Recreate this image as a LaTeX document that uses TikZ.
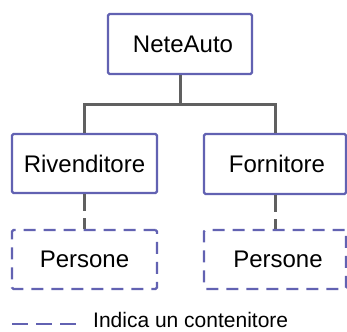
\documentclass[tikz,border=0pt]{standalone}
\usepackage{fontspec}
\setmainfont{Liberation Sans}
\definecolor{boxblue}{RGB}{98,98,178}
\definecolor{linkgray}{RGB}{96,96,96}

\begin{document}
\begin{tikzpicture}[x=1pt, y=-1pt,
    box/.style={draw=boxblue, line width=2.2pt, rectangle, rounded corners=1.5pt, inner sep=0pt, minimum width=145pt, minimum height=60pt, font=\fontsize{24}{28}\selectfont},
    container/.style={box, dash pattern=on 12pt off 8pt},
    link/.style={draw=linkgray, line width=3pt}]
    \useasboundingbox (0,0) rectangle (347,331);

    % Nodes
    \node (neteauto) [box, minimum width=144pt] at (180,44) {\hspace{6pt}NeteAuto};
    \node (rivenditore) [box, minimum height=59pt] at (84.5,163.5) {Rivenditore};
    \node (fornitore) [box, minimum width=142pt] at (275,164) {\hspace{4pt}Fornitore};
    \node (persone1) [container, minimum height=59pt] at (84.5,259.5) {Persone\hspace{16pt}};
    \node (persone2) [container, minimum width=142pt, minimum height=59pt] at (275,259.5) {\hspace{6pt}Persone};
    \coordinate (split) at (180,105);

    % Legend
    \coordinate (legstart) at (12,324);
    \coordinate (legstop) at (78,324);
    \node (legtext) [anchor=base west, inner sep=0pt, font=\fontsize{21}{25}\selectfont] at (93,327) {Indica un contenitore};

    % Connectors
    \draw[link] (neteauto.south) -- (split);
    \draw[link] (split) -| (rivenditore.north);
    \draw[link] (split) -| (fornitore.north);
    \draw[link, dash pattern=on 17pt off 7pt] (rivenditore.south) -- (persone1.north);
    \draw[link, dash pattern=on 17pt off 7pt] (fornitore.south) -- (persone2.north);
    \draw[draw=boxblue, line width=2.2pt, dash pattern=on 16pt off 8pt] (legstart) -- (legstop);
\end{tikzpicture}
\end{document}
